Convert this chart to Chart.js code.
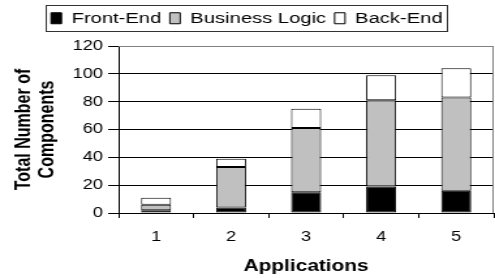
<!DOCTYPE html>
<html>
<head>
<meta charset="utf-8">
<script src="https://cdn.jsdelivr.net/npm/chart.js@4.4.1/dist/chart.umd.min.js"></script>
<style>
  body { margin: 0; background: #fff; }
  canvas { display: block; }
</style>
</head>
<body>
<!-- the original picture is stretched sideways, so the canvas is drawn narrower and scaled up -->
<canvas id="chart" width="380" height="278" style="width:495px;height:278px"></canvas>
<script>
const categories = ['1', '2', '3', '4', '5'];
const frontEnd = [2, 4, 15, 19, 16];
const businessLogic = [4, 29, 46, 62, 67];
const backEnd = [5, 6, 14, 18, 21];
const yTicks = [0, 20, 40, 60, 80, 100, 120];

const FONT = '"Liberation Sans", Arial, sans-serif';

// grey frame on top and right of the plot area
const plotFrame = {
  id: 'plotFrame',
  beforeDatasetsDraw(chart) {
    const { ctx, chartArea: a } = chart;
    ctx.save();
    ctx.strokeStyle = '#808080';
    ctx.lineWidth = 1;
    ctx.beginPath();
    ctx.moveTo(a.left, a.top + 0.5);
    ctx.lineTo(a.right - 0.5, a.top + 0.5);
    ctx.lineTo(a.right - 0.5, a.bottom);
    ctx.stroke();
    ctx.restore();
  }
};

// extra room under the legend + box around it
const legendBox = {
  id: 'legendBox',
  beforeInit(chart) {
    const legend = chart.legend;
    if (!legend) return;
    const fit = legend.fit.bind(legend);
    legend.fit = function() {
      fit();
      this.height += 10;
    };
  },
  afterDraw(chart) {
    const boxes = chart.legend.legendHitBoxes;
    if (!boxes || !boxes.length) return;
    const first = boxes[0], last = boxes[boxes.length - 1];
    const ctx = chart.ctx;
    ctx.save();
    ctx.strokeStyle = '#333';
    ctx.lineWidth = 1;
    const x0 = Math.round(first.left - 4.4) + 0.5;
    const x1 = Math.round(last.left + last.width + 3.3) + 0.5;
    const y0 = Math.round(first.top - 6) + 0.5;
    const y1 = Math.round(first.top + first.height + 5) + 0.5;
    ctx.strokeRect(x0, y0, x1 - x0, y1 - y0);
    ctx.restore();
  }
};

new Chart(document.getElementById('chart'), {
  type: 'bar',
  data: {
    labels: categories,
    datasets: [
      { label: 'Front-End', data: frontEnd, backgroundColor: '#000000' },
      { label: 'Business Logic', data: businessLogic, backgroundColor: '#c0c0c0' },
      { label: 'Back-End', data: backEnd, backgroundColor: '#ffffff' }
    ].map(d => Object.assign(d, {
      borderColor: '#000',
      borderWidth: 1,
      borderSkipped: false,
      barPercentage: 0.4,
      categoryPercentage: 1
    }))
  },
  options: {
    responsive: false,
    animation: false,
    layout: { padding: { top: 4, right: 1, bottom: 2, left: 0 } },
    plugins: {
      tooltip: { enabled: false },
      legend: {
        position: 'top',
        labels: {
          color: '#000',
          font: { family: FONT, size: 15.5 },
          boxWidth: 8,
          boxHeight: 11,
          padding: 6.5
        }
      }
    },
    scales: {
      x: {
        stacked: true,
        grid: { offset: true, drawOnChartArea: false, tickLength: 5, tickColor: '#000' },
        border: { color: '#000' },
        ticks: { color: '#000', font: { family: FONT, size: 14 }, padding: 11 },
        title: {
          display: true, text: 'Applications', color: '#000',
          font: { family: FONT, size: 16, weight: 'bold' }, padding: { top: 0, bottom: 0 }
        }
      },
      y: {
        stacked: true,
        min: 0, max: 120,
        afterBuildTicks: s => { s.ticks = yTicks.map(v => ({ value: v })); },
        afterFit: s => { s.width = 91; },
        grid: {
          color: c => c.tick && c.tick.value === 120 ? '#808080' : '#000',
          tickColor: '#000', tickLength: 8
        },
        border: { color: '#000' },
        ticks: { color: '#000', font: { family: FONT, size: 14 }, padding: 4 },
        title: {
          display: true, text: ['Total Number of', 'Components'], color: '#000',
          font: { family: FONT, size: 16, weight: 'bold', lineHeight: 1.1 },
          padding: { top: 10, bottom: 0 }
        }
      }
    }
  },
  plugins: [plotFrame, legendBox]
});
</script>
</body>
</html>
